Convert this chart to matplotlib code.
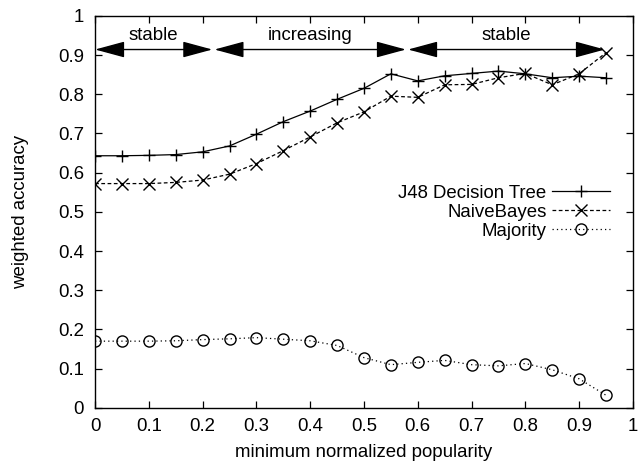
import numpy as np
import matplotlib
matplotlib.use("Agg")
import matplotlib.pyplot as plt
from matplotlib.ticker import FuncFormatter

plt.rcParams['font.family'] = ['Liberation Sans', 'DejaVu Sans']
plt.rcParams['font.size'] = 13.4

# minimum normalized popularity
popularity = [0.0, 0.05, 0.1, 0.15, 0.2, 0.25, 0.3, 0.35, 0.4, 0.45,
              0.5, 0.55, 0.6, 0.65, 0.7, 0.75, 0.8, 0.85, 0.9, 0.95]

j48 = [0.643, 0.643, 0.644, 0.646, 0.653, 0.668, 0.698, 0.730, 0.757, 0.787,
       0.815, 0.852, 0.834, 0.847, 0.853, 0.859, 0.852, 0.842, 0.846, 0.842]
naive_bayes = [0.572, 0.572, 0.572, 0.575, 0.581, 0.596, 0.623, 0.656, 0.691, 0.727,
               0.755, 0.795, 0.792, 0.824, 0.825, 0.842, 0.853, 0.824, 0.852, 0.906]
majority = [0.170, 0.170, 0.170, 0.171, 0.174, 0.176, 0.179, 0.175, 0.171, 0.159,
            0.128, 0.110, 0.116, 0.121, 0.110, 0.107, 0.113, 0.097, 0.074, 0.032]

# phases marked with arrows above the curves
phase_start = [0.0, 0.222, 0.582]
phase_end = [0.218, 0.578, 0.948]
phase_names = ["stable", "increasing", "stable"]
arrow_y = 0.914
label_y = 0.949

fig = plt.figure(figsize=(6.38, 4.65), dpi=100)
ax = fig.add_axes([0.149, 0.123, 0.843, 0.843])

ax.plot(popularity, j48, color='k', lw=0.9, marker='+', ms=9, mew=1.0,
        label="J48 Decision Tree")
ax.plot(popularity, naive_bayes, color='k', lw=0.9, dashes=(3, 2), marker='x', ms=9, mew=1.0,
        label="NaiveBayes")
ax.plot(popularity, majority, color='k', lw=0.9, dashes=(1, 2.5), marker='o', ms=8, mew=1.0,
        mfc='none', label="Majority")

for x0, x1, name in zip(phase_start, phase_end, phase_names):
    ax.annotate("", xy=(x1, arrow_y), xytext=(x0, arrow_y),
                arrowprops=dict(arrowstyle="<|-|>,head_length=1.85,head_width=0.5",
                                mutation_scale=10, color='k', lw=1.0,
                                shrinkA=0, shrinkB=0))
    ax.text((x0 + x1) / 2, label_y, name, ha='center', va='center')

ax.set_xlim(0, 1)
ax.set_ylim(0, 1)
ax.set_xticks(np.arange(0, 1.01, 0.1))
ax.set_yticks(np.arange(0, 1.01, 0.1))
fmt = FuncFormatter(lambda v, pos: "%g" % round(v, 2))
ax.xaxis.set_major_formatter(fmt)
ax.yaxis.set_major_formatter(fmt)
ax.tick_params(direction='in', length=5, width=0.9, top=True, right=True)
ax.tick_params(axis='y', pad=8)
ax.tick_params(axis='x', pad=7)
for s in ax.spines.values():
    s.set_linewidth(1.0)

ax.set_xlabel("minimum normalized popularity", labelpad=7)
ax.set_ylabel("weighted accuracy", labelpad=21)

ax.legend(loc='upper right', bbox_to_anchor=(0.957, 0.569), frameon=False,
          markerfirst=False, handlelength=3.1, handletextpad=0.3,
          labelspacing=0.1, borderpad=0, borderaxespad=0)

fig.savefig("out.png", dpi=100)
